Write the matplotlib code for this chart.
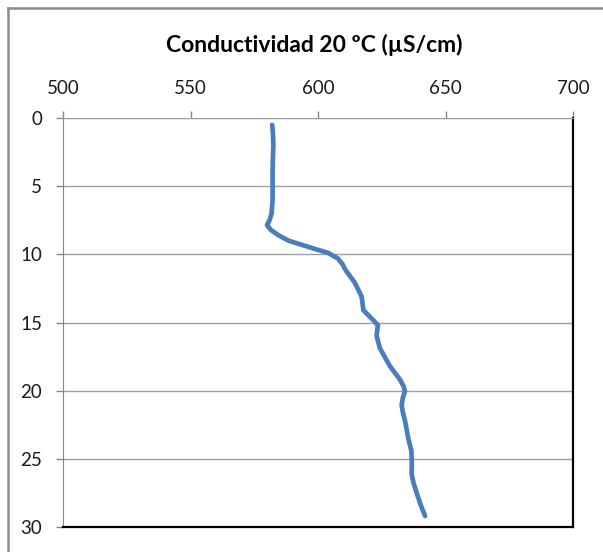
import matplotlib
matplotlib.use("Agg")
import matplotlib.pyplot as plt
from matplotlib.lines import Line2D

# Data (depth in m, conductivity at 20 ºC in µS/cm)
depth = [0.5, 1, 2, 3, 4, 5, 6, 7, 7.5, 7.85, 8.2, 8.6, 9.0, 9.5, 9.9, 10.3,
         10.7, 11.2, 12.1, 13.1, 14.1, 14.7, 15.2, 15.6, 16.0, 16.9, 18.2,
         19.2, 19.7, 20.05, 20.5, 21.05, 21.6, 22.2, 23.5, 24.4, 25.2, 26.1,
         26.8, 27.5, 28.4, 29.2]
conductivity = [582, 582.3, 582.5, 582.3, 582.2, 582.2, 582.2, 581.8, 581,
                580, 581.5, 584.5, 588.5, 597, 604, 607.8, 609.5, 611, 614.5,
                617.1, 617.8, 621, 623.5, 623.2, 623, 624.3, 628.2, 632.2,
                633.6, 634.1, 633.3, 632.8, 633.3, 634.1, 635.4, 636.6, 636.8,
                636.7, 637.5, 638.7, 640.3, 642]
x_ticks = [500, 550, 600, 650, 700]
y_ticks = [0, 5, 10, 15, 20, 25, 30]
title = "Conductividad 20 ºC (µS/cm)"

plt.rcParams['font.family'] = ['Lato', 'DejaVu Sans']

fig = plt.figure(figsize=(6.03, 5.52), dpi=100)
W, H = 603, 552
ax = fig.add_axes([63 / W, 1 - 527 / H, 510 / W, 409 / H])

ax.plot(conductivity, depth, color='#4A7EBB', lw=3.4,
        solid_capstyle='round', solid_joinstyle='round', zorder=3)

ax.set_xlim(500, 700)
ax.set_ylim(30, 0)
ax.set_xticks(x_ticks)
ax.set_yticks(y_ticks)
ax.xaxis.tick_top()
ax.tick_params(axis='x', direction='out', length=5, width=1, color='#868686',
               pad=10, labelsize=13.5, labelcolor='#1a1a1a')
ax.tick_params(axis='y', direction='out', length=5, width=1, color='#868686',
               pad=10, labelsize=13.5, labelcolor='#1a1a1a')
ax.grid(axis='y', color='#a0a0a0', lw=1)
ax.set_axisbelow(True)

ax.spines['top'].set_color('#a0a0a0')
ax.spines['left'].set_color('#868686')
ax.spines['right'].set_color('#000000')
ax.spines['bottom'].set_color('#000000')
ax.spines['right'].set_linewidth(1.6)
ax.spines['bottom'].set_linewidth(1.6)

fig.text(314 / W, 1 - 45 / H, title, ha='center', va='center',
         fontsize=16.5, fontweight='bold', color='#000000')

# outer chart frame (cut off on right and bottom)
fig.add_artist(Line2D([8 / W, 1], [1 - 8 / H, 1 - 8 / H], color='#8c8c8c', lw=1.8))
fig.add_artist(Line2D([8 / W, 8 / W], [0, 1 - 8 / H], color='#8c8c8c', lw=1.8))

fig.savefig("out.png", dpi=100)
